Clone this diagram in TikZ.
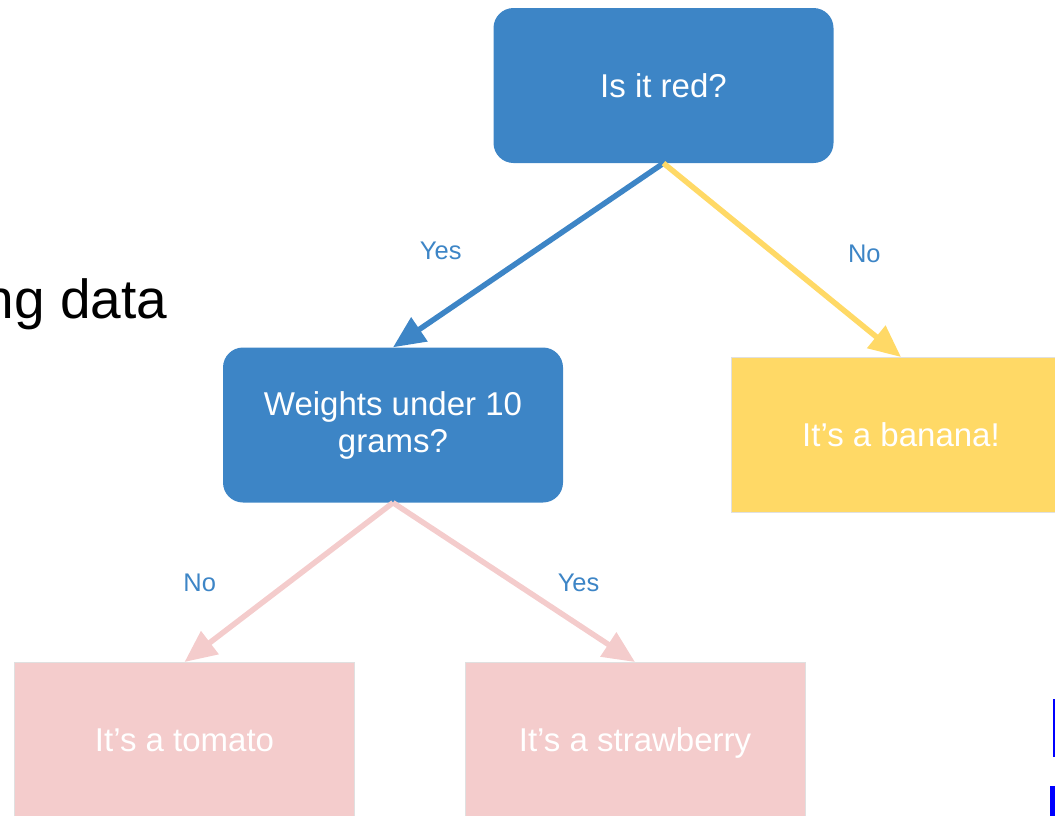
\documentclass[tikz,border=0pt]{standalone}
\usepackage{fontspec}
\setmainfont{Liberation Sans}
\usetikzlibrary{arrows.meta, positioning}
\definecolor{treeblue}{HTML}{3D85C6}
\definecolor{treeyellow}{HTML}{FFD966}
\definecolor{treepink}{HTML}{F4CCCC}
\def\boxwidth{340pt}
\def\boxheight{155pt}
\def\boxfont{\fontsize{33}{37}\selectfont}
\def\branchfont{\fontsize{25.5}{28}\selectfont}
\def\topicfont{\fontsize{55}{60}\selectfont}
\tikzset{
% Question
question/.style={
	rectangle, rounded corners=20pt,
	fill=treeblue, text=white,
	minimum width=\boxwidth, minimum height=\boxheight,
	align=center, font=\boxfont,
	},
% Answer
answer/.style={
	rectangle, draw=black!12, line width=1pt,
	text=white, text depth=0pt,
	minimum width=\boxwidth, minimum height=\boxheight,
	align=center, font=\boxfont,
	},
% Branch
branch/.style={
	line width=5.5pt, -{Triangle[length=32pt, width=28pt]},
	},
% Branch label
branchlabel/.style={
	font=\branchfont, text=treeblue, inner sep=0pt, midway,
	},
}

\begin{document}
\begin{tikzpicture}[x=1pt, y=-1pt]
		\useasboundingbox (0,0) rectangle (1055,815);
		\clip (0,0) rectangle (1055,815);

		% Nodes
		\node[question] (red) at (663.5,85.5) {Is it red?};
		\node[question] (weights) at (393,425) {Weights under 10\\grams?};
		\node[answer, fill=treeyellow] (banana) at (901,435) {It's a banana!};
		\node[answer, fill=treepink] (tomato) at (184.5,740) {It's a tomato};
		\node[answer, fill=treepink] (strawberry) at (635,740) {It's a strawberry};

		\node[anchor=base east, font=\topicfont] (topic) at (171,318) {ng data};

		% Branches
		\draw[branch, treeblue] (red.south) --
			node[branchlabel, left=64pt, yshift=4pt] (redyes) {Yes} (weights.north);
		\draw[branch, treeyellow] (red.south) --
			node[branchlabel, right=63pt, yshift=6pt] (redno) {No} (banana.north);
		\draw[branch, treepink] (weights.south) --
			node[branchlabel, left=70pt] (weightsno) {No} (tomato.north);
		\draw[branch, treepink] (weights.south) --
			node[branchlabel, right=41pt] (weightsyes) {Yes} (strawberry.north);

		% Cut-off marks at the right edge
		\fill[blue] (1053,699) rectangle (1056,757);
		\fill[blue] (1050,786) rectangle (1056,816);
	\end{tikzpicture}
\end{document}
